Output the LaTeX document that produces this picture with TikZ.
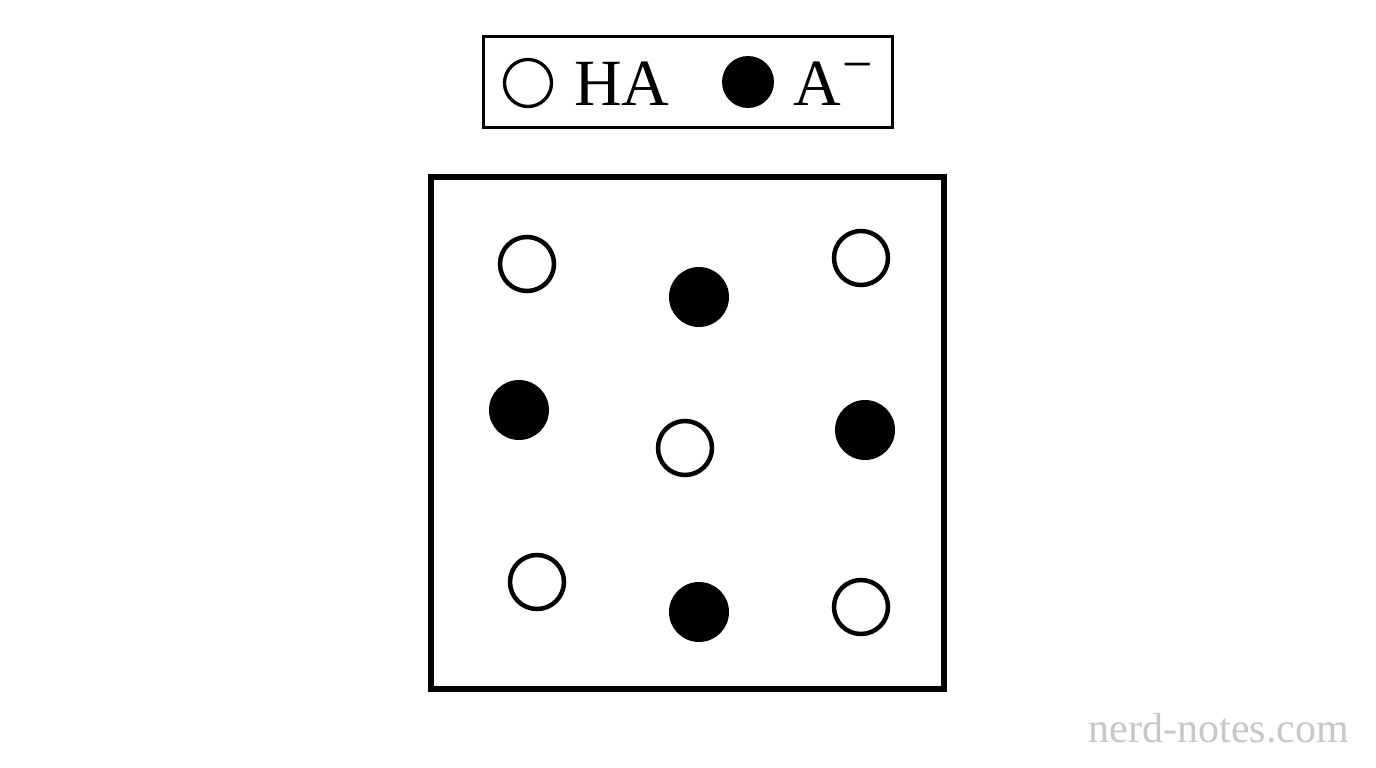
\documentclass[tikz,border=0pt]{standalone}
\usepackage{fontspec}
\setmainfont{Liberation Serif}
\begin{document}
\begin{tikzpicture}[x=1pt,y=-1pt,
  ha/.style={circle,draw=black,fill=white,line width=4.5pt,minimum size=54pt,inner sep=0pt},
  am/.style={circle,fill=black,minimum size=60pt,inner sep=0pt},
  legha/.style={circle,draw=black,line width=3.3pt,minimum size=47pt,inner sep=0pt},
  legam/.style={circle,fill=black,minimum size=52pt,inner sep=0pt},
  lab/.style={anchor=base west,inner sep=0pt,font=\fontsize{66}{66}\selectfont}]
\useasboundingbox (0,0) rectangle (1376,768);
\fill[white] (0,0) rectangle (1376,768);
% legend
\node[draw=black,line width=2.5pt,minimum width=409pt,minimum height=91pt,inner sep=0pt] (legend) at (688,82) {};
\node[legha] (lha) at (528,83) {};
\node[lab] (tha) at (574,106) {HA};
\node[legam] (lam) at (748,82) {};
\node[lab] (tam) at (793,106) {A\hspace{2pt}\raisebox{24pt}{\fontsize{54}{54}\selectfont −}};
% main box
\node[draw=black,line width=5.5pt,minimum width=513pt,minimum height=512pt,inner sep=0pt] (box) at (687.5,433) {};
% particles
\node[ha] (h1) at (527,264) {};
\node[ha] (h2) at (861,258) {};
\node[ha] (h3) at (685,448) {};
\node[ha] (h4) at (537,582) {};
\node[ha] (h5) at (861,607) {};
\node[am] (a1) at (699,297) {};
\node[am] (a2) at (519,410) {};
\node[am] (a3) at (865,430) {};
\node[am] (a4) at (699,612) {};
% watermark
\node[anchor=base east,inner sep=0pt,text=black!22,font=\fontsize{42}{42}\selectfont] (wm) at (1349,742) {nerd-notes.com};
\end{tikzpicture}
\end{document}
